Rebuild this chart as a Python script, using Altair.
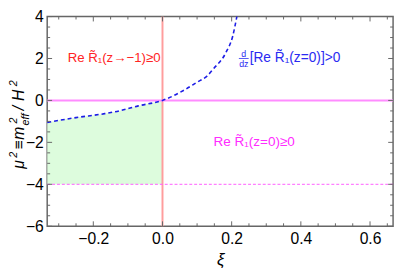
import altair as alt
import pandas as pd

# ---- data ----
xi_curve = [-0.333, -0.25, -0.167, -0.125, -0.07, 0.0, 0.0625, 0.1, 0.128, 0.147, 0.184, 0.203, 0.215]
mu2_curve = [-1.05, -0.82, -0.63, -0.50, -0.26, 0.0, 0.49, 0.87, 1.15, 1.5, 2.3, 3.06, 4.0]
fill_floor = -4
h_solid = [0]
h_dashed = [-4]
v_solid = [0]

x_domain = [-1 / 3, 2 / 3]
y_domain = [-6, 4]
x_major = [-0.2, 0.0, 0.2, 0.4, 0.6]
x_minor = [-0.3, -0.25, -0.15, -0.1, -0.05, 0.05, 0.1, 0.15, 0.25, 0.3, 0.35, 0.45, 0.5, 0.55, 0.65]
y_major = [-6, -4, -2, 0, 2, 4]
y_minor = [-5.5, -5, -4.5, -3.5, -3, -2.5, -1.5, -1, -0.5, 0.5, 1, 1.5, 2.5, 3, 3.5]

ann_text = ["Re R\u0303\u2081(z\u2192\u22121)\u22650", "[Re R\u0303\u2081(z=0)]>0", "Re R\u0303\u2081(z=0)\u22650"]
ann_x = [-0.14, 0.252, 0.265]
ann_y = [2, 2, -2]
ann_align = ["center", "left", "center"]
ann_size = [13.5, 14, 13.8]
ann_color = ["#ff2424", "#2a2af2", "#ff2cff"]

W, H = 353, 214
TOP = 6
FONT = "Liberation Sans"

xs = alt.Scale(domain=x_domain, nice=False, zero=False)
ys = alt.Scale(domain=y_domain, nice=False, zero=False)

curve = pd.DataFrame({"xi": xi_curve, "mu2": mu2_curve})
fill = curve[curve.xi <= 0].copy()
fill["floor"] = fill_floor

base = alt.Chart(curve)

area = alt.Chart(fill).mark_area(color="#ddfcdd", interpolate="monotone").encode(
    x=alt.X("xi:Q", scale=xs, axis=alt.Axis(values=x_major, format=".1f", title="\u03be",
                                          titleFontStyle="italic", titleFontSize=17, titleFont=FONT,
                                          titleFontWeight="normal", titleColor="black", titlePadding=5,
                                          labelFont=FONT, labelFontSize=16, labelColor="black",
                                          labelPadding=5, ticks=False, domain=False, grid=False)),
    y=alt.Y("mu2:Q", scale=ys, axis=alt.Axis(values=y_major, format="d", title="",
                                           labelFont=FONT, labelFontSize=16, labelColor="black",
                                           labelPadding=4, ticks=False, domain=False, grid=False)),
    y2="floor:Q",
)

vline = alt.Chart(pd.DataFrame({"v": v_solid})).mark_rule(color="#ff9d9d", strokeWidth=2).encode(
    x=alt.X("v:Q", scale=xs))
hline = alt.Chart(pd.DataFrame({"v": h_solid})).mark_rule(color="#ff8cff", strokeWidth=2).encode(
    y=alt.Y("v:Q", scale=ys))
hdash = alt.Chart(pd.DataFrame({"v": h_dashed})).mark_rule(color="#ff5cff", strokeWidth=1,
                                                          strokeDash=[3, 2]).encode(
    y=alt.Y("v:Q", scale=ys))

line = base.mark_line(color="#1c1ce6", strokeWidth=1.6, strokeDash=[4, 3], interpolate="monotone").encode(
    x=alt.X("xi:Q", scale=xs), y=alt.Y("mu2:Q", scale=ys))


def tick_layer(vals, channel, length):
    df = pd.DataFrame({"v": vals})
    layers = []
    if channel == "x":
        layers.append(alt.Chart(df).mark_rule(color="#666666", strokeWidth=1).encode(
            x=alt.X("v:Q", scale=xs), y=alt.value(H), y2=alt.value(H - length)))
        layers.append(alt.Chart(df).mark_rule(color="#666666", strokeWidth=1).encode(
            x=alt.X("v:Q", scale=xs), y=alt.value(0), y2=alt.value(length)))
    else:
        layers.append(alt.Chart(df).mark_rule(color="#666666", strokeWidth=1).encode(
            y=alt.Y("v:Q", scale=ys), x=alt.value(0), x2=alt.value(length)))
        layers.append(alt.Chart(df).mark_rule(color="#666666", strokeWidth=1).encode(
            y=alt.Y("v:Q", scale=ys), x=alt.value(W), x2=alt.value(W - length)))
    return layers


ticks = (tick_layer(x_major, "x", 5) + tick_layer(x_minor, "x", 3)
         + tick_layer(y_major, "y", 5) + tick_layer(y_minor, "y", 3))

ann = pd.DataFrame({"t": ann_text, "x": ann_x, "y": ann_y})
texts = []
for i in range(len(ann)):
    texts.append(alt.Chart(ann.iloc[[i]]).mark_text(font=FONT, fontSize=ann_size[i], align=ann_align[i],
                                                    baseline="middle", color=ann_color[i]).encode(
        x=alt.X("x:Q", scale=xs), y=alt.Y("y:Q", scale=ys), text="t:N"))

# fraction d/dz in front of the blue annotation
frac_df = ann.iloc[[1]]
frac = [
    alt.Chart(frac_df).mark_text(font=FONT, fontSize=9, align="center", baseline="middle",
                                 color=ann_color[1], text="d", dx=-6, dy=-5).encode(
        x=alt.X("x:Q", scale=xs), y=alt.Y("y:Q", scale=ys)),
    alt.Chart(frac_df).mark_text(font=FONT, fontSize=9, align="center", baseline="middle",
                                 color=ann_color[1], text="dz", dx=-6, dy=6).encode(
        x=alt.X("x:Q", scale=xs), y=alt.Y("y:Q", scale=ys)),
    alt.Chart(frac_df).mark_rule(color=ann_color[1], strokeWidth=0.8, xOffset=-11, x2Offset=-1).encode(
        x=alt.X("x:Q", scale=xs), x2="x:Q", y=alt.Y("y:Q", scale=ys)),
]

# composed y-axis title: mu^2 = m^2_eff / H^2 (rotated)
one = pd.DataFrame({"k": [0]})


def piece(txt, px, py, size):
    return alt.Chart(one).mark_text(text=txt, font=FONT, fontStyle="italic", fontSize=size, angle=270,
                                    align="center", baseline="alphabetic", color="black").encode(
        x=alt.value(px - 48), y=alt.value(py - 8 - TOP))


title_parts = [
    piece("\u03bc", 24, 165, 16),
    piece("2", 17.5, 155, 11),
    piece("\u2261", 24, 145, 16),
    piece("m", 24, 133, 16),
    piece("2", 17.5, 120, 11),
    piece("eff", 29, 119, 11),
    piece("/", 24, 107.5, 16),
    piece("H", 24, 94.5, 16),
    piece("2", 17.5, 82, 11),
]

chart = alt.layer(area, vline, hline, hdash, line, *ticks, *texts, *frac, *title_parts).properties(
    width=W, height=H,
    autosize=alt.AutoSizeParams(type="none"),
    padding={"left": 40, "top": TOP, "right": 4, "bottom": 45},
).configure_view(stroke="#666666", strokeWidth=1.5)

chart.save("out.html", embed_options={"renderer": "svg", "actions": False})
